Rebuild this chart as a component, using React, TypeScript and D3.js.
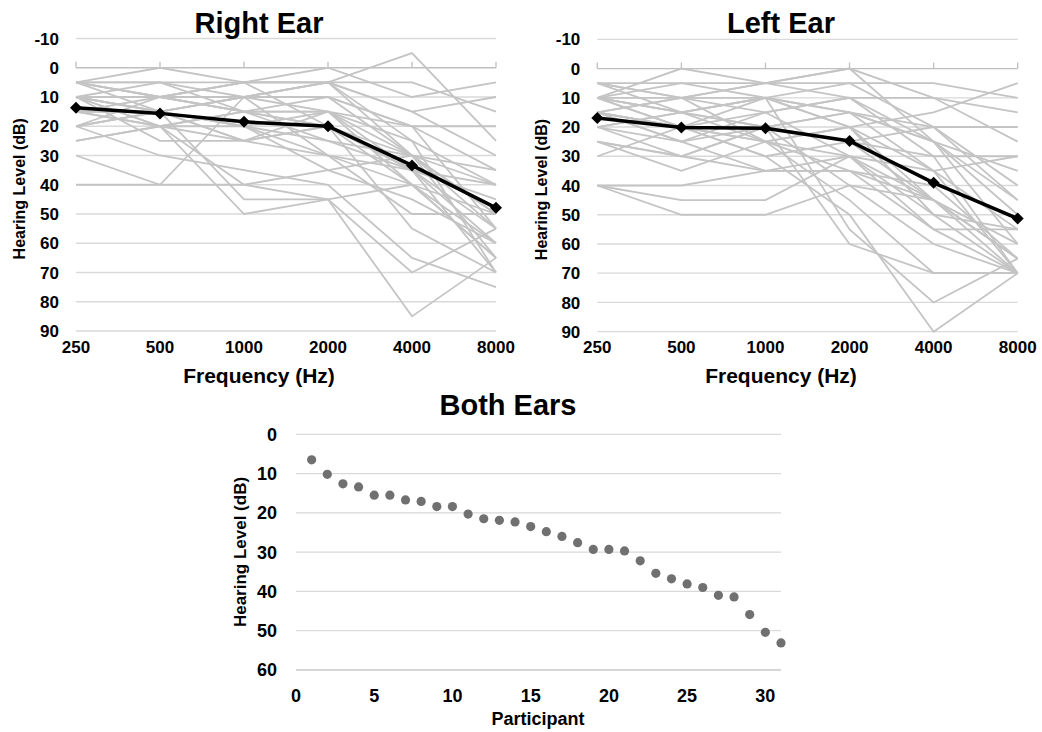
import React, { useEffect, useRef } from "react";
import * as d3 from "d3";

// frequencies on the x axis of both ear charts
const FREQS = ["250", "500", "1000", "2000", "4000", "8000"];
const EAR_TICKS = [-10, 0, 10, 20, 30, 40, 50, 60, 70, 80, 90];

// thresholds per participant, one row = [250, 500, 1000, 2000, 4000, 8000]
const rightEar = [
  [5, 0, 5, 5, 5, 15], [5, 5, 10, 5, -5, 25], [5, 10, 5, 0, 10, 5], [10, 5, 5, 5, 15, 10],
  [5, 10, 10, 10, 20, 20], [10, 10, 5, 5, 15, 30], [10, 15, 10, 10, 30, 35], [5, 10, 15, 15, 25, 40],
  [15, 10, 10, 5, 30, 50], [10, 15, 20, 15, 20, 55], [10, 10, 15, 20, 35, 45], [5, 15, 10, 15, 35, 60],
  [15, 20, 15, 20, 30, 55], [10, 15, 20, 25, 30, 50], [20, 10, 15, 15, 30, 40], [15, 15, 25, 20, 40, 60],
  [10, 20, 15, 25, 35, 70], [20, 15, 20, 30, 35, 55], [15, 20, 25, 15, 40, 65], [10, 25, 25, 30, 40, 50],
  [25, 20, 20, 35, 45, 60], [15, 15, 10, 30, 50, 50], [20, 15, 25, 20, 55, 70], [10, 20, 40, 35, 30, 65],
  [30, 40, 10, 5, 25, 70], [20, 30, 35, 40, 65, 75], [15, 15, 45, 45, 70, 55], [25, 20, 50, 45, 85, 65],
  [40, 40, 40, 45, 40, 65], [5, 5, 15, 10, 20, 35], [10, 10, 5, 20, 35, 40],
];
const leftEar = [
  [5, 5, 5, 0, 10, 15], [10, 0, 5, 5, 5, 10], [5, 10, 10, 20, 15, 5], [10, 5, 10, 5, 20, 20],
  [15, 10, 5, 10, 10, 25], [5, 15, 10, 15, 25, 35], [10, 10, 15, 10, 30, 30], [15, 20, 10, 15, 20, 45],
  [10, 15, 25, 20, 35, 55], [15, 20, 15, 10, 25, 60], [10, 15, 20, 15, 25, 50], [20, 15, 10, 20, 45, 65],
  [15, 25, 20, 25, 30, 70], [10, 20, 25, 30, 50, 55], [25, 30, 20, 15, 35, 70], [15, 20, 30, 25, 45, 60],
  [20, 25, 15, 30, 55, 55], [15, 10, 25, 35, 40, 65], [30, 20, 25, 20, 50, 70], [10, 20, 20, 40, 45, 70],
  [20, 30, 35, 30, 45, 65], [15, 25, 35, 35, 55, 70], [40, 45, 45, 30, 35, 30], [25, 35, 25, 45, 70, 70],
  [10, 15, 10, 55, 80, 65], [40, 50, 50, 40, 60, 70], [15, 20, 30, 50, 90, 70], [40, 40, 35, 35, 45, 65],
  [25, 30, 20, 60, 70, 70], [5, 10, 5, 0, 25, 45], [20, 15, 20, 25, 20, 40],
];

// group means (black line)
const rightMean = [13.7, 15.6, 18.5, 20.0, 33.4, 47.9];
const leftMean = [16.9, 20.2, 20.4, 24.8, 39.1, 51.3];

// average hearing level per participant, both ears
const participants = d3.range(1, 32);
const bothEars = [
  6.5, 10.2, 12.6, 13.4, 15.5, 15.5, 16.7, 17.1, 18.4, 18.4, 20.3, 21.5, 21.9, 22.3, 23.5, 24.8,
  26.0, 27.6, 29.3, 29.3, 29.7, 32.2, 35.4, 36.8, 38.1, 39.0, 41.0, 41.4, 45.9, 50.4, 53.1,
];
const BOTH_TICKS = [0, 10, 20, 30, 40, 50, 60];
const PART_TICKS = [0, 5, 10, 15, 20, 25, 30];

const FONT = "'Liberation Sans', Arial, sans-serif";
const GRID = "#d9d9d9";

function drawEar(svg, title, rows, mean, box) {
  const g = svg.append("g");
  const x = d3.scalePoint().domain(FREQS).range([box.x0, box.x1]);
  const y = d3.scaleLinear().domain([-10, 90]).range([box.y0, box.y1]);

  // gridlines
  g.selectAll(".grid")
    .data(EAR_TICKS.filter((t) => t !== 0))
    .enter()
    .append("line")
    .attr("x1", box.x0)
    .attr("x2", box.x1)
    .attr("y1", (d) => y(d))
    .attr("y2", (d) => y(d))
    .attr("stroke", GRID)
    .attr("stroke-width", 1.3);

  // axis line at 0 with upward ticks
  g.append("line")
    .attr("x1", box.x0).attr("x2", box.x1)
    .attr("y1", y(0)).attr("y2", y(0))
    .attr("stroke", "#bfbfbf").attr("stroke-width", 1.3);
  g.selectAll(".tick")
    .data(FREQS)
    .enter()
    .append("line")
    .attr("x1", (d) => x(d)).attr("x2", (d) => x(d))
    .attr("y1", y(0)).attr("y2", y(0) - 6)
    .attr("stroke", "#bfbfbf").attr("stroke-width", 1.3);

  // individual participants
  const line = d3.line().x((d, i) => x(FREQS[i])).y((d) => y(d));
  g.selectAll(".p")
    .data(rows)
    .enter()
    .append("path")
    .attr("d", line)
    .attr("fill", "none")
    .attr("stroke", "#c4c4c4")
    .attr("stroke-width", 1.8);

  // mean line
  g.append("path")
    .attr("d", line(mean))
    .attr("fill", "none")
    .attr("stroke", "#000")
    .attr("stroke-width", 3.5);
  const diamond = d3.symbol(d3.symbolSquare, 72);
  g.selectAll(".m")
    .data(mean)
    .enter()
    .append("path")
    .attr("d", diamond)
    .attr("transform", (d, i) => `translate(${x(FREQS[i])},${y(d)}) rotate(45)`)
    .attr("fill", "#000");

  // y labels
  g.selectAll(".yl")
    .data(EAR_TICKS)
    .enter()
    .append("text")
    .attr("x", box.x0 - 17)
    .attr("y", (d) => y(d))
    .attr("dy", "0.36em")
    .attr("text-anchor", "end")
    .style("font", `bold 17px ${FONT}`)
    .text((d) => d);

  // x labels
  g.selectAll(".xl")
    .data(FREQS)
    .enter()
    .append("text")
    .attr("x", (d) => x(d))
    .attr("y", 353)
    .attr("text-anchor", "middle")
    .style("font", `bold 17px ${FONT}`)
    .text((d) => d);

  g.append("text")
    .attr("x", box.cx).attr("y", 383)
    .attr("text-anchor", "middle")
    .style("font", `bold 21px ${FONT}`)
    .text("Frequency (Hz)");

  g.append("text")
    .attr("transform", `translate(${box.yt},${(box.y0 + box.y1) / 2 + 4}) rotate(-90)`)
    .attr("text-anchor", "middle")
    .style("font", `bold 16px ${FONT}`)
    .text("Hearing Level (dB)");

  g.append("text")
    .attr("x", box.cx).attr("y", 33)
    .attr("text-anchor", "middle")
    .style("font", `bold 29px ${FONT}`)
    .text(title);
}

function drawBoth(svg) {
  const g = svg.append("g");
  const x = d3.scaleLinear().domain([0, 31]).range([296, 781]);
  const y = d3.scaleLinear().domain([0, 60]).range([434.3, 670]);

  g.selectAll(".grid")
    .data(BOTH_TICKS)
    .enter()
    .append("line")
    .attr("x1", x(0)).attr("x2", x(31))
    .attr("y1", (d) => y(d)).attr("y2", (d) => y(d))
    .attr("stroke", (d) => (d === 60 ? "#c8c8c8" : GRID))
    .attr("stroke-width", 1.3);

  g.selectAll(".dot")
    .data(bothEars)
    .enter()
    .append("circle")
    .attr("cx", (d, i) => x(participants[i]))
    .attr("cy", (d) => y(d))
    .attr("r", 4.6)
    .attr("fill", "#707070");

  g.selectAll(".yl")
    .data(BOTH_TICKS)
    .enter()
    .append("text")
    .attr("x", 277)
    .attr("y", (d) => y(d))
    .attr("dy", "0.36em")
    .attr("text-anchor", "end")
    .style("font", `bold 18px ${FONT}`)
    .text((d) => d);

  g.selectAll(".xl")
    .data(PART_TICKS)
    .enter()
    .append("text")
    .attr("x", (d) => x(d))
    .attr("y", 701.5)
    .attr("text-anchor", "middle")
    .style("font", `bold 18px ${FONT}`)
    .text((d) => d);

  g.append("text")
    .attr("x", 538).attr("y", 725)
    .attr("text-anchor", "middle")
    .style("font", `bold 18px ${FONT}`)
    .text("Participant");

  g.append("text")
    .attr("transform", `translate(245.5,552) rotate(-90)`)
    .attr("text-anchor", "middle")
    .style("font", `bold 17px ${FONT}`)
    .text("Hearing Level (dB)");

  g.append("text")
    .attr("x", 508).attr("y", 415)
    .attr("text-anchor", "middle")
    .style("font", `bold 29px ${FONT}`)
    .text("Both Ears");
}

export default function App() {
  const svgRef = useRef(null);

  useEffect(() => {
    const svg = d3.select(svgRef.current);
    svg.selectAll("*").remove();
    svg.append("rect").attr("width", 1042).attr("height", 732).attr("fill", "#fff");

    drawEar(svg, "Right Ear", rightEar, rightMean, {
      x0: 76, x1: 496, y0: 38.5, y1: 331, cx: 259, yt: 25,
    });
    drawEar(svg, "Left Ear", leftEar, leftMean, {
      x0: 597.3, x1: 1017.7, y0: 39.3, y1: 331.7, cx: 781, yt: 546.5,
    });
    drawBoth(svg);
  }, []);

  return (
    <svg
      ref={svgRef}
      width={1042}
      height={732}
      style={{ position: "absolute", left: 0, top: 0 }}
    />
  );
}
